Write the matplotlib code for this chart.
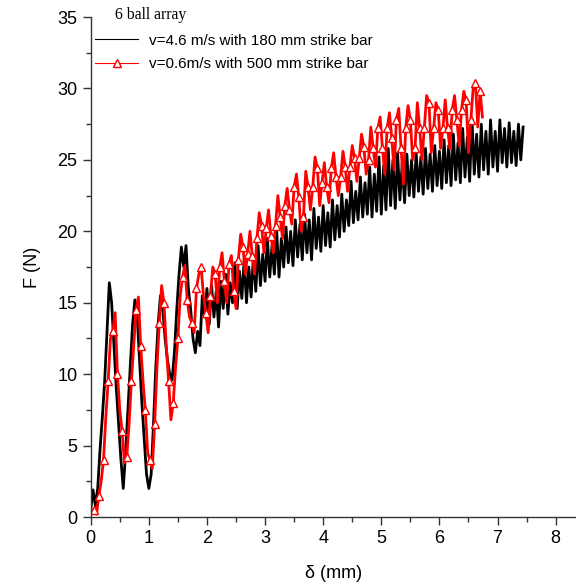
import numpy as np
import matplotlib
matplotlib.use("Agg")
import matplotlib.pyplot as plt
from matplotlib.lines import Line2D
from matplotlib.ticker import MultipleLocator

plt.rcParams['font.family'] = ['Liberation Sans', 'DejaVu Sans']

# black: v=4.6 m/s, sampled every 0.04 mm from 0 to 7.44 mm
black_x_range = (0.0, 7.44)
black_f = [
    0.5, 1.9, 0.8, 2.0, 4.7, 7.0, 9.5, 13.0, 16.4, 15.0,
    12.0, 9.0, 6.5, 4.0, 2.0, 4.5, 7.5, 10.5, 13.5, 15.2,
    14.0, 11.0, 8.0, 5.5, 3.0, 2.0, 3.0, 6.5, 10.5, 13.5,
    15.5, 14.5, 12.5, 11.0, 10.0, 9.6, 11.5, 14.5, 17.0, 18.9,
    17.5, 19.0, 16.0, 14.5, 12.5, 11.5, 13.0, 12.0, 15.5, 14.0,
    16.0,
    13.5, 16.2, 14.0, 15.8, 13.3, 16.5, 14.6, 17.0, 14.2, 16.4,
    15.0, 17.8, 14.6, 17.2, 15.3, 18.0, 15.0, 17.5, 15.4, 18.3,
    15.8, 19.0, 16.2, 18.4, 16.5, 19.5, 16.8, 19.0, 17.0, 20.0,
    16.8, 19.5, 17.5, 20.3, 17.8, 20.0, 17.6, 20.8, 18.2, 20.5,
    18.0, 21.2, 18.5, 20.8, 18.0, 21.6, 18.8, 21.0, 18.6, 21.8,
    19.0, 21.3, 18.9, 22.2, 19.4, 21.8, 19.6, 22.6, 20.0, 22.2,
    20.4, 23.5, 20.6, 22.8, 20.8, 23.8, 21.0, 23.4, 21.2, 24.5,
    21.0, 24.0, 21.4, 25.2, 21.2, 24.6, 21.5, 25.8, 21.8, 25.0,
    21.6, 25.5, 22.2, 24.8, 22.0, 25.4, 22.5, 25.0, 22.4, 25.5,
    22.8, 25.2, 22.6, 25.8, 23.0, 25.4, 22.8, 26.0, 23.2, 25.6,
    23.0, 26.4, 23.4, 26.0, 23.2, 26.8, 23.6, 26.2, 23.4, 27.2,
    23.8, 26.6, 23.5, 27.9, 24.0, 26.8, 23.8, 27.5, 24.3, 27.0,
    24.0, 27.8, 24.5, 27.0, 24.2, 27.8, 24.8, 27.2, 24.5, 27.6,
    24.8, 27.0, 24.6, 27.5, 25.0, 27.3,
]

# red: v=0.6 m/s, sampled every 0.04 mm from 0.06 to 6.74 mm
# values at the markers, and the values between two markers
red_x_range = (0.06, 6.74)
red_mark_f = [
    0.5, 1.5, 4.0, 9.5, 13.0, 10.0, 6.0, 4.2, 9.5, 14.5,
    12.0, 7.5, 4.0, 6.5, 13.6, 15.0, 9.5, 8.0, 12.5, 16.8,
    15.2, 13.6, 16.0, 17.5, 14.3, 15.5, 17.0, 17.5, 16.5, 17.7,
    15.8, 18.0, 18.9, 18.4, 18.3, 19.5, 20.4, 20.2, 19.7, 20.4,
    21.0, 21.8, 21.5, 23.1, 22.4, 21.0, 23.1, 23.1, 24.4, 23.4,
    23.1, 24.4, 23.8, 23.8, 24.5, 24.5, 25.1, 25.1, 25.9, 25.0,
    25.8, 27.2, 25.8, 27.2, 26.5, 27.8, 25.8, 27.2, 27.8, 25.8,
    27.2, 27.2, 29.0, 27.2, 28.5, 27.2, 27.2, 28.5, 27.8, 28.5,
    29.2, 27.8, 30.4, 29.8,
]
red_mid_f = [
    0.2, 2.5, 7.0, 12.5, 14.3, 7.5, 3.8, 6.5, 12.0, 15.4,
    9.5, 4.5, 3.4, 10.5, 16.2, 12.0, 6.8, 10.5, 15.5, 17.6,
    14.0, 12.9, 17.0, 15.5, 12.9, 17.5, 15.0, 18.5, 15.0, 18.3,
    14.6, 19.8, 17.0, 20.0, 17.0, 21.3, 18.5, 21.5, 18.5, 22.5,
    19.5, 23.0, 20.5, 24.0, 20.0, 24.2, 21.5, 25.2, 21.8, 24.8,
    22.0, 25.5, 22.5, 25.6, 22.8, 26.0, 23.5, 26.8, 24.0, 27.3,
    24.5, 28.0, 24.0, 28.3, 24.3, 28.6, 23.3, 28.8, 25.0, 29.0,
    25.0, 29.5, 25.5, 29.0, 25.8, 29.2, 25.8, 29.5, 26.0, 29.8,
    25.5, 30.0, 27.3, 28.0,
]

black_label = "v=4.6 m/s with 180 mm strike bar"
red_label = "v=0.6m/s with 500 mm strike bar"
legend_title = "6 ball array"

black_x = np.linspace(*black_x_range, len(black_f))
red_f = np.column_stack([red_mark_f, red_mid_f]).ravel()
red_x = np.linspace(*red_x_range, len(red_f))

fig = plt.figure(figsize=(5.76, 5.85), dpi=100)
ax = fig.add_axes([0.1575, 0.1162, 0.8425, 0.8547])

ax.plot(black_x, black_f, color='black', lw=2.0)
ax.plot(red_x, red_f, color='red', lw=2.0, marker='^', markersize=5.5,
        markerfacecolor='white', markeredgecolor='red', markeredgewidth=1.0,
        markevery=2)

ax.set_xlim(0, 8.35)
ax.set_ylim(0, 35)
ax.xaxis.set_major_locator(MultipleLocator(1))
ax.xaxis.set_minor_locator(MultipleLocator(0.5))
ax.yaxis.set_major_locator(MultipleLocator(5))
ax.yaxis.set_minor_locator(MultipleLocator(2.5))

ax.spines['top'].set_visible(False)
ax.spines['right'].set_visible(False)
for s in ('left', 'bottom'):
    ax.spines[s].set_linewidth(1.0)
    ax.spines[s].set_color('#333333')
ax.tick_params(which='major', direction='out', length=6, width=1.0,
               labelsize=13, color='#333333')
ax.tick_params(which='minor', direction='out', length=3.5, width=1.0,
               color='#333333')

ax.set_xlabel("δ (mm)", fontsize=13, labelpad=13)
ax.set_ylabel("F (N)", fontsize=13, labelpad=12)

# thin proxy lines for the legend, like the reference
handles = [
    Line2D([], [], color='black', lw=0.8),
    Line2D([], [], color='red', lw=0.8, marker='^', markersize=5.5,
           markerfacecolor='white', markeredgecolor='red'),
]
leg = ax.legend(handles, [black_label, red_label], loc='upper left',
                bbox_to_anchor=(0.0, 1.03), frameon=False, fontsize=11,
                handlelength=2.8, handletextpad=0.7, labelspacing=0.6,
                borderpad=0.3, borderaxespad=0.0,
                title="     " + legend_title,
                title_fontproperties={'family': 'Liberation Serif', 'size': 11.3},
                alignment='left')
leg._legend_box.sep = 8

fig.savefig("out.png", dpi=100)
